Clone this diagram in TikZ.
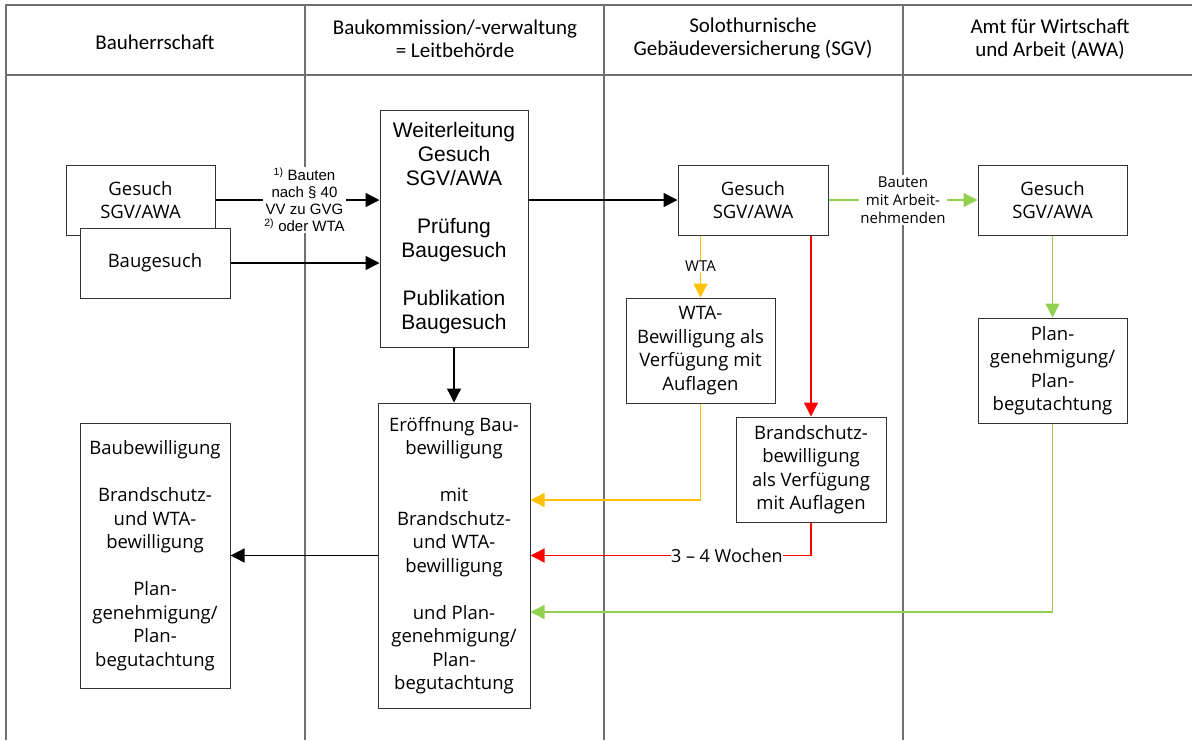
\documentclass[tikz,border=0pt]{standalone}
\usepackage{fontspec}
\setmainfont{Open Sans}
\newfontfamily\headfont{Carlito}
\newfontfamily\arialfont{Liberation Sans}
\usetikzlibrary{arrows.meta}
\definecolor{lanegray}{HTML}{707070}
\definecolor{wtayellow}{HTML}{FFC000}
\definecolor{sgvred}{HTML}{FF0000}
\definecolor{awagreen}{HTML}{92D050}
\tikzset{
	lane/.style={draw=lanegray, line width=1.5pt},
	head/.style={align=center, font=\headfont\fontsize{21}{23}\selectfont},
	box/.style={draw=black!80, line width=1pt, fill=white, align=center, inner sep=0pt, font=\fontsize{18.5}{23.5}\selectfont},
	flow/.style={line width=1.3pt, -{Triangle[length=14pt,width=14pt]}},
	lbl/.style={fill=white, inner sep=1.5pt, align=center}
}
\begin{document}
\begin{tikzpicture}[x=1pt,y=-1pt]
			\useasboundingbox (0,0) rectangle (1192,740);
			\draw[lane] (6,740) -- (6,5) -- (1192,5);
			\draw[lane] (6,75) -- (1192,75);
			\draw[lane] (305,5) -- (305,740);
			\draw[lane] (604,5) -- (604,740);
			\draw[lane] (903,5) -- (903,740);
			\node[head](HeadBauherr)		at (155,42)		{Bauherrschaft};
			\node[head](HeadLeit)			at (455,39)		{Baukommission/-verwaltung\\= Leitbehörde};
			\node[head](HeadSGV)			at (753,39)		{Solothurnische\\Gebäudeversicherung (SGV)};
			\node[head](HeadAWA)			at (1050,39)	{Amt für Wirtschaft\\und Arbeit (AWA)};
			\node[box, minimum width=149pt, minimum height=70pt](GesuchBauherr)	at (140.5,200)	{Gesuch\\SGV/AWA};
			\node[box, minimum width=150pt, minimum height=70pt](Baugesuch)		at (155,263)	{Baugesuch};
			\node[box, minimum width=148pt, minimum height=237pt, font=\arialfont\fontsize{21}{24}\selectfont](Weiterleitung)	at (454,228.5)	{Weiterleitung\\Gesuch\\SGV/AWA\\[24pt]Prüfung\\Baugesuch\\[24pt]Publikation\\Baugesuch};
			\node[box, minimum width=150pt, minimum height=70pt](GesuchSGV)		at (753,200)	{Gesuch\\SGV/AWA};
			\node[box, minimum width=149pt, minimum height=70pt](GesuchAWA)		at (1052.5,200)	{Gesuch\\SGV/AWA};
			\node[box, minimum width=149pt, minimum height=105pt](PlanAWA)		at (1052.5,370.5)	{Plan-\\genehmigung/\\Plan-\\begutachtung};
			\node[box, minimum width=149pt, minimum height=105pt](WTABew)		at (700.5,350.5)	{WTA-\\Bewilligung als\\Verfügung mit\\Auflagen};
			\node[box, minimum width=150pt, minimum height=105pt](Brandschutz)	at (811,469.5)	{Brandschutz-\\bewilligung\\als Verfügung\\mit Auflagen};
			\node[box, minimum width=152pt, minimum height=305pt](Eroeffnung)	at (454,555.5)	{Eröffnung Bau-\\bewilligung\\[23.5pt]mit\\Brandschutz-\\und WTA-\\bewilligung\\[23.5pt]und Plan-\\genehmigung/\\Plan-\\begutachtung};
			\node[box, minimum width=150pt, minimum height=265pt](Baubewilligung)	at (155,555.5)	{Baubewilligung\\[23.5pt]Brandschutz-\\und WTA-\\bewilligung\\[23.5pt]Plan-\\genehmigung/\\Plan-\\begutachtung};
			\draw[flow] (GesuchBauherr.east) -- node[lbl, font=\arialfont\fontsize{15}{17}\selectfont, xshift=7pt]{\textsuperscript{1)} Bauten\\nach § 40\\VV zu GVG\\\textsuperscript{2)} oder WTA} (GesuchBauherr.east -| Weiterleitung.west);
			\draw[flow] (Baugesuch.east) -- (Baugesuch.east -| Weiterleitung.west);
			\draw[flow] (GesuchSGV.west -| Weiterleitung.east) -- (GesuchSGV.west);
			\draw[flow] (Weiterleitung.south) -- (Eroeffnung.north);
			\draw[flow] (Eroeffnung.west) -- (Baubewilligung.east);
			\draw[flow, awagreen] (GesuchSGV.east) -- node[lbl, text=black, font=\fontsize{15}{18}\selectfont]{Bauten\\mit Arbeit-\\nehmenden} (GesuchAWA.west);
			\draw[flow, awagreen] (GesuchAWA.south) -- (PlanAWA.north);
			\draw[flow, wtayellow] (WTABew.north |- GesuchSGV.south) -- node[lbl, text=black, font=\fontsize{15}{16}\selectfont]{WTA} (WTABew.north);
			\draw[flow, sgvred] (Brandschutz.north |- GesuchSGV.south) -- (Brandschutz.north);
			\draw[flow, wtayellow] (WTABew.south) |- ([yshift=55.5pt]Eroeffnung.east);
			\draw[flow, sgvred] (Brandschutz.south) |- node[pos=0.65, lbl, text=black, inner sep=0.5pt, font=\fontsize{18}{20}\selectfont]{3 -- 4 Wochen} (Eroeffnung.east);
			\draw[flow, awagreen] (PlanAWA.south) |- ([yshift=-56.5pt]Eroeffnung.east);
		\end{tikzpicture}
\end{document}
